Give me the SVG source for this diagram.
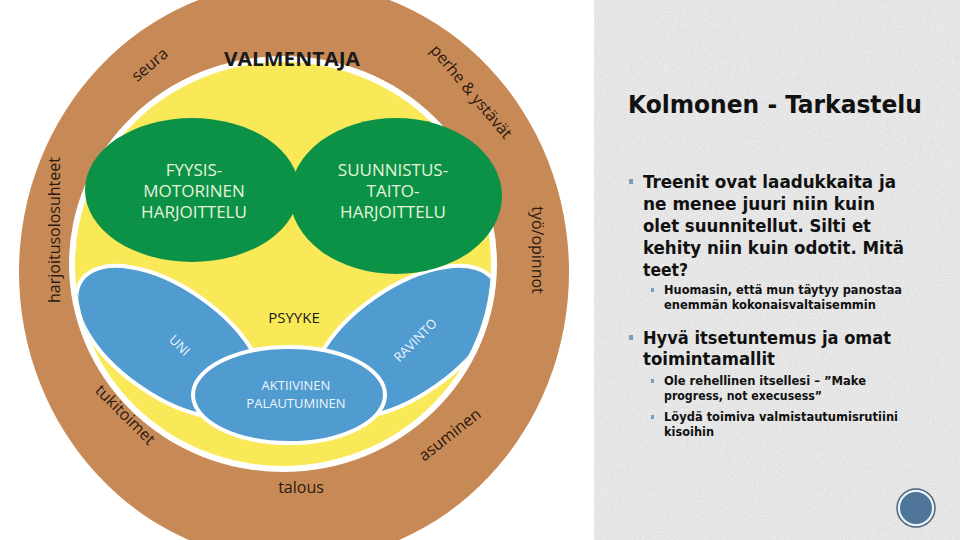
<svg xmlns="http://www.w3.org/2000/svg" width="960" height="540" viewBox="0 0 960 540">
<defs>
<style>
.ring{font-family:"Open Sans","DejaVu Sans",sans-serif;font-size:16px;fill:#2a1a10}
.gtx{font-family:"Open Sans","DejaVu Sans",sans-serif;font-size:17px;fill:#e6f4de;text-anchor:middle}
.btx{font-family:"Open Sans","DejaVu Sans",sans-serif;font-size:13px;fill:#eef5fb;text-anchor:middle}
.rt{font-family:"DejaVu Sans Condensed","DejaVu Sans",sans-serif;font-weight:bold;fill:#111}
.b1{font-size:17px}
.b2{font-size:12px}
.bul{fill:#7d9cb8}
</style>
<clipPath id="yc"><ellipse cx="283" cy="264" rx="208" ry="202"/></clipPath>
<filter id="noise" x="0" y="0" width="100%" height="100%">
<feTurbulence type="fractalNoise" baseFrequency="0.9" numOctaves="2" seed="3"/>
<feColorMatrix type="matrix" values="0 0 0 0 1  0 0 0 0 1  0 0 0 0 1  1.2 0 0 0 -0.5"/>
</filter>
</defs>
<rect width="960" height="540" fill="#ffffff"/>
<rect x="594" y="0" width="366" height="540" fill="#e2e2e2"/>
<rect x="594" y="0" width="366" height="540" filter="url(#noise)"/>
<g id="outer">
<ellipse cx="294" cy="272" rx="275" ry="290" fill="#c78956"/>
<ellipse cx="283" cy="264" rx="214" ry="208" fill="#ffffff"/>
<ellipse cx="283" cy="264" rx="208" ry="202" fill="#f9e958"/>
</g>
<g id="uni" clip-path="url(#yc)">
<ellipse cx="170" cy="342" rx="108" ry="54" transform="rotate(35 170 342)" fill="#509bd0" stroke="#fff" stroke-width="4"/>
<text class="btx" x="180" y="350" transform="rotate(45 180 345)">UNI</text>
</g>
<g id="ravinto" clip-path="url(#yc)">
<ellipse cx="405" cy="342" rx="108" ry="54" transform="rotate(-35 405 342)" fill="#509bd0" stroke="#fff" stroke-width="4"/>
<text class="btx" x="415" y="345" transform="rotate(-45 415 340)">RAVINTO</text>
</g>
<g id="fyysis">
<ellipse cx="192" cy="190" rx="107" ry="72" fill="#0c9246"/>
<text class="gtx" x="194" y="176">FYYSIS-</text>
<text class="gtx" x="194" y="197">MOTORINEN</text>
<text class="gtx" x="194" y="218">HARJOITTELU</text>
</g>
<g id="suunnistus">
<ellipse cx="396" cy="196" rx="106" ry="78" fill="#0c9246"/>
<text class="gtx" x="393" y="176">SUUNNISTUS-</text>
<text class="gtx" x="393" y="197">TAITO-</text>
<text class="gtx" x="393" y="218">HARJOITTELU</text>
</g>
<g id="aktiivinen">
<ellipse cx="289" cy="395" rx="96" ry="48" fill="#509bd0" stroke="#fff" stroke-width="4"/>
<text class="btx" x="296" y="390">AKTIIVINEN</text>
<text class="btx" x="296" y="408">PALAUTUMINEN</text>
</g>
<g id="labels">
<text x="292" y="66" font-family="'Open Sans','DejaVu Sans',sans-serif" font-weight="bold" font-size="19" fill="#1a1a1a" text-anchor="middle" textLength="136" lengthAdjust="spacingAndGlyphs">VALMENTAJA</text>
<text x="294" y="323" font-family="'Open Sans','DejaVu Sans',sans-serif" font-size="15" fill="#1a1a1a" text-anchor="middle">PSYYKE</text>
<text class="ring" x="150" y="70" text-anchor="middle" transform="rotate(-40 150 65)">seura</text>
<text class="ring" x="471" y="97" text-anchor="middle" transform="rotate(50 471 92)">perhe &amp; ystävät</text>
<text class="ring" x="55" y="235" text-anchor="middle" transform="rotate(-90 55 230)">harjoitusolosuhteet</text>
<text class="ring" x="537" y="255" text-anchor="middle" transform="rotate(90 537 250)">työ/opinnot</text>
<text class="ring" x="125" y="420" text-anchor="middle" transform="rotate(45 125 415)">tukitoimet</text>
<text class="ring" x="450" y="440" text-anchor="middle" transform="rotate(-38 450 435)">asuminen</text>
<text class="ring" x="301" y="493" text-anchor="middle">talous</text>
</g>
<g id="panel">
<text class="rt" x="628" y="113" font-size="24" textLength="294" lengthAdjust="spacingAndGlyphs">Kolmonen - Tarkastelu</text>
<rect class="bul" x="629" y="179" width="4" height="5"/>
<text class="rt b1" x="643" y="188" textLength="253" lengthAdjust="spacingAndGlyphs">Treenit ovat laadukkaita ja</text>
<text class="rt b1" x="643" y="210" textLength="232" lengthAdjust="spacingAndGlyphs">ne menee juuri niin kuin</text>
<text class="rt b1" x="643" y="232" textLength="228" lengthAdjust="spacingAndGlyphs">olet suunnitellut. Silti et</text>
<text class="rt b1" x="643" y="254" textLength="261" lengthAdjust="spacingAndGlyphs">kehity niin kuin odotit. Mitä</text>
<text class="rt b1" x="643" y="276" textLength="45" lengthAdjust="spacingAndGlyphs">teet?</text>
<rect class="bul" x="651" y="288" width="3" height="4"/>
<text class="rt b2" x="664" y="294" textLength="238" lengthAdjust="spacingAndGlyphs">Huomasin, että mun täytyy panostaa</text>
<text class="rt b2" x="664" y="309" textLength="212" lengthAdjust="spacingAndGlyphs">enemmän kokonaisvaltaisemmin</text>
<rect class="bul" x="629" y="335" width="4" height="5"/>
<text class="rt" x="643" y="344" font-size="18" textLength="248" lengthAdjust="spacingAndGlyphs">Hyvä itsetuntemus ja omat</text>
<text class="rt" x="643" y="365" font-size="18" textLength="132" lengthAdjust="spacingAndGlyphs">toimintamallit</text>
<rect class="bul" x="651" y="379" width="3" height="4"/>
<text class="rt b2" x="664" y="385" textLength="202" lengthAdjust="spacingAndGlyphs">Ole rehellinen itsellesi – ”Make</text>
<text class="rt b2" x="664" y="400" textLength="158" lengthAdjust="spacingAndGlyphs">progress, not execusess”</text>
<rect class="bul" x="651" y="415" width="3" height="4"/>
<text class="rt b2" x="664" y="421" textLength="234" lengthAdjust="spacingAndGlyphs">Löydä toimiva valmistautumisrutiini</text>
<text class="rt b2" x="664" y="436" textLength="50" lengthAdjust="spacingAndGlyphs">kisoihin</text>
<circle cx="916" cy="508" r="17" fill="#4e7599" stroke="#e8f2f8" stroke-width="2"/>
<circle cx="916" cy="508" r="19" fill="none" stroke="#4b6680" stroke-width="1.5"/>
</g>
</svg>
